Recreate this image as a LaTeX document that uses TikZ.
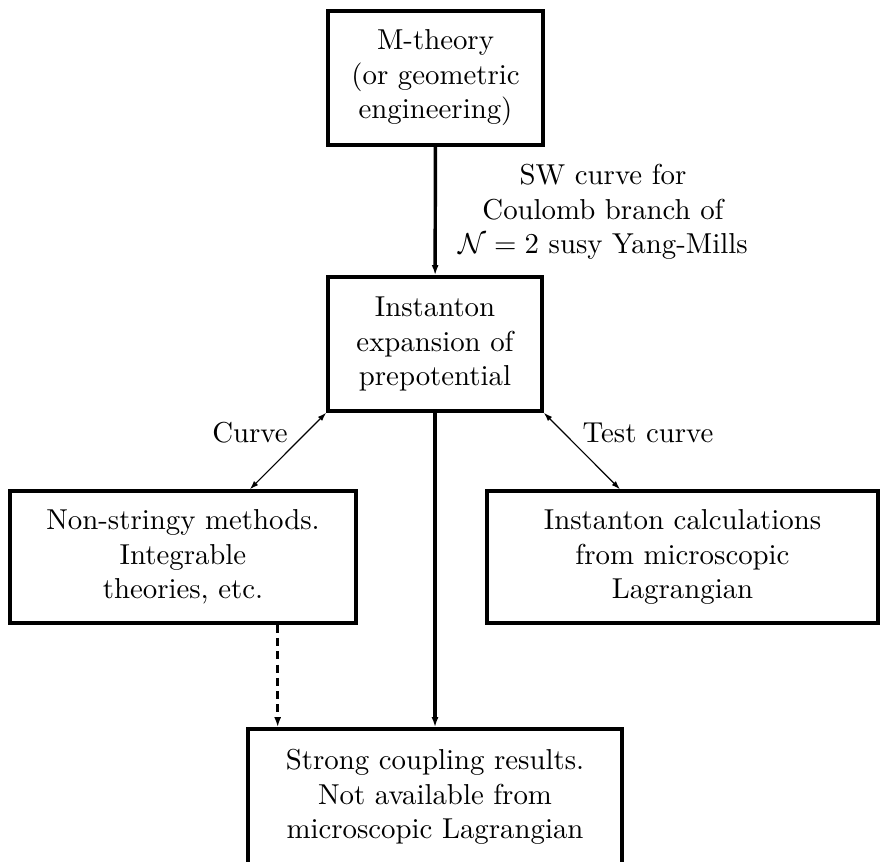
\documentclass[tikz,border=0pt]{standalone}
\usepackage{amssymb}
\usepackage{tikz}
\usetikzlibrary{arrows.meta}

\begin{document}
\begin{tikzpicture}[x=0.347pt,y=0.347pt,yscale=-1,xscale=1,
  box/.style={draw,line width=1.2pt,rectangle,align=center,inner sep=0pt},
  thickarr/.style={line width=1.2pt,-{Latex[length=3.5pt,width=2.4pt]}},
  thinarr/.style={line width=0.4pt,{Latex[length=3pt,width=2pt]}-{Latex[length=3pt,width=2pt]}},
  lbl/.style={align=center,inner sep=0pt}]
%set diagram left start at 0, and has height of 861
\useasboundingbox (0,0) rectangle (881,861);

% Text Node
\draw (435.5,78) node[box,minimum width=74.6pt,minimum height=46.5pt] (mth) {M-theory\\(or geometric\\engineering)};
% Text Node
\draw (435,344) node[box,minimum width=74.3pt,minimum height=46.5pt] (inst) {Instanton\\expansion of\\prepotential};
% Text Node
\draw (183,557) node[box,minimum width=120.1pt,minimum height=45.8pt] (nonstr) {Non-stringy methods.\\Integrable\\theories, etc.};
% Text Node
\draw (682.5,557) node[box,minimum width=135.7pt,minimum height=45.8pt] (calc) {Instanton calculations\\from microscopic\\Lagrangian};
% Text Node
\draw (435,797) node[box,minimum width=129.8pt,minimum height=47.2pt] (strong) {Strong coupling results.\\Not available from\\microscopic Lagrangian};
% Text Node
\draw (603,212) node[lbl] (swlbl) {SW curve for\\Coulomb branch of\\$\mathcal{N}=2$ susy Yang-Mills};
% Text Node
\draw (250,433) node[lbl] (curvelbl) {Curve};
% Text Node
\draw (648,433) node[lbl] (testlbl) {Test curve};

% Connection
\draw[thickarr] (mth) -- (inst) ;

% Connection
\draw[thinarr] (inst.south west) -- ([xshift=23.2pt]nonstr.north) ;

% Connection
\draw[thinarr] (inst.south east) -- ([xshift=-21.7pt]calc.north) ;

% Connection
\draw[thickarr] (inst) -- (strong) ;

% Connection
\coordinate (dtop) at ([xshift=-27.8pt]nonstr.south east);
\draw[thickarr,dash pattern=on 2.8pt off 1.8pt] (dtop) -- (dtop |- strong.north) ;

\end{tikzpicture}
\end{document}
